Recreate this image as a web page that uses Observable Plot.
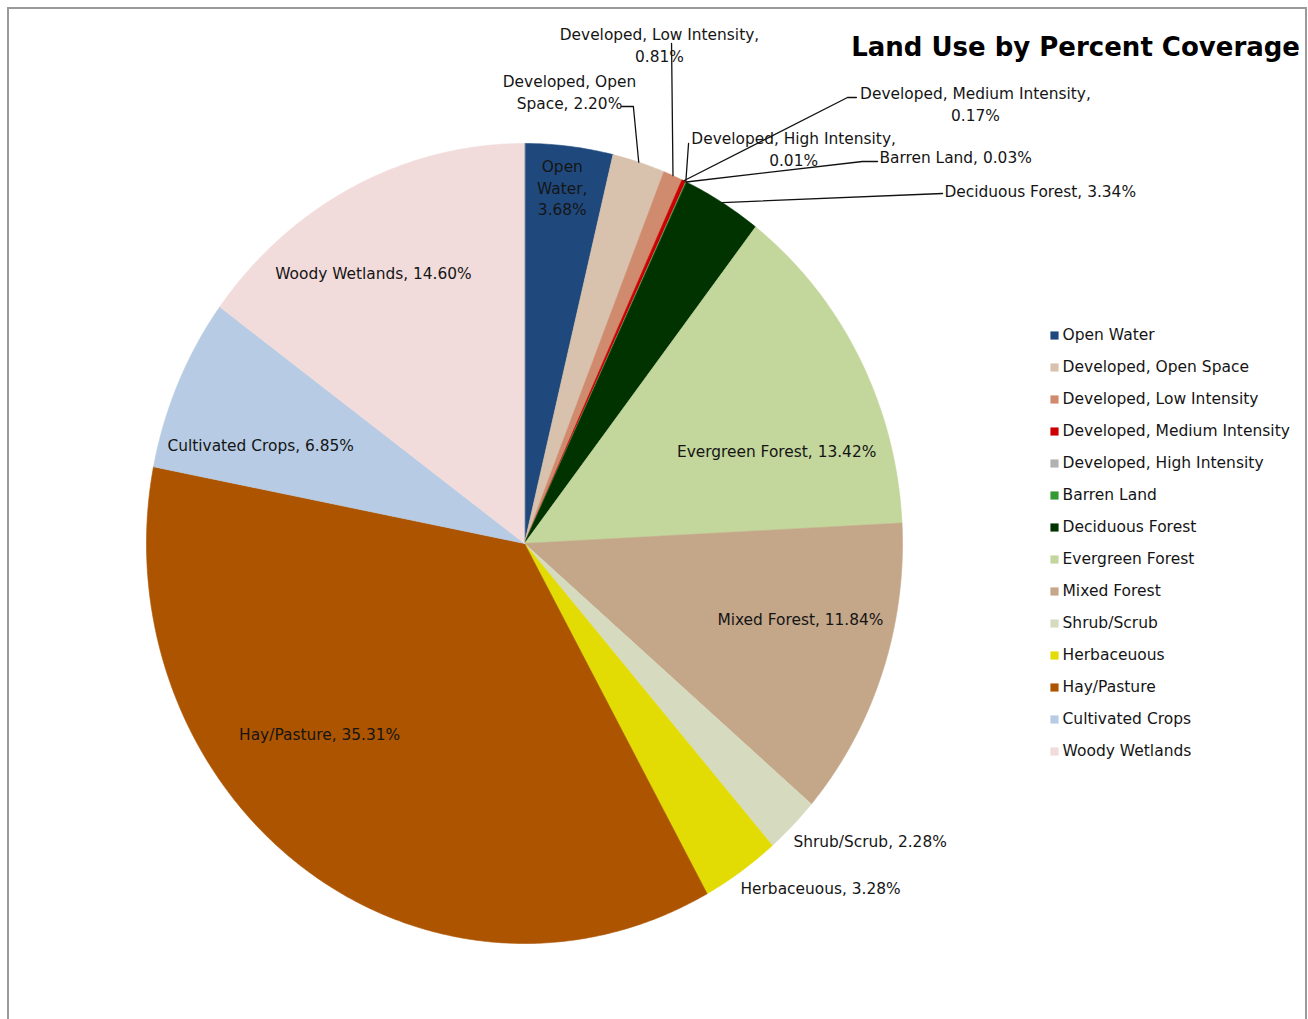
<!DOCTYPE html>
<html><head><meta charset="utf-8">
<script src="https://cdn.jsdelivr.net/npm/d3@7"></script>
<script src="https://cdn.jsdelivr.net/npm/@observablehq/plot@0.6"></script>
<style>
html,body{margin:0;padding:0;background:#fff;overflow:hidden;width:1308px;height:1019px}
#wrap{position:relative;width:1308px;height:1019px;font-family:"DejaVu Sans",sans-serif}
#border{position:absolute;left:7px;top:7px;width:1300px;height:1040px;border:2px solid #9a9a9a;border-bottom:none;box-sizing:border-box}
#title{position:absolute;right:8px;top:31px;font:bold 26px "DejaVu Sans",sans-serif;line-height:32px;color:#000;white-space:nowrap}
#chart{position:absolute;left:0;top:0}
#legend{position:absolute;left:1040px;top:315px}
</style></head><body>
<div id="wrap"><div id="border"></div><div id="chart"></div><div id="title">Land Use by Percent Coverage</div><div id="legend"></div></div>
<script>
// ---- data ----
const categories = ["Open Water","Developed, Open Space","Developed, Low Intensity","Developed, Medium Intensity","Developed, High Intensity","Barren Land","Deciduous Forest","Evergreen Forest","Mixed Forest","Shrub/Scrub","Herbaceuous","Hay/Pasture","Cultivated Crops","Woody Wetlands"];
const percents = [3.68, 2.20, 0.81, 0.17, 0.01, 0.03, 3.34, 13.42, 11.84, 2.28, 3.28, 35.31, 6.85, 14.60];
const colors = ["#1F497D","#D8C2AD","#D08A6E","#CC0000","#B2B2B2","#339933","#003300","#C3D69B","#C4A688","#D6DBBF","#E2DC04","#AD5400","#B7CCE4","#F2DCDB"];

// ---- label layout (in pie-radius units) ----
const labelLayout = {
 "Open Water": {at:[0.100, 0.892], breaks:["Open","Water,"]},
 "Developed, Open Space": {at:[0.119,1.131], breaks:["Open"], leader:[[0.288,1.0925],[0.257,1.0925]]},
 "Developed, Low Intensity": {at:[0.357,1.249], breaks:["Intensity,"], leader:[[0.389,1.25]]},
 "Developed, Medium Intensity": {at:[1.193,1.101], breaks:["Intensity,"], leader:[[0.8545,1.115],[0.878,1.115]]},
 "Developed, High Intensity": {at:[0.712,0.989], breaks:["Intensity,"], leader:[[0.434,1.0]]},
 "Barren Land": {at:[0.939,0.9675], anchor:"start", leader:[[0.894,0.955],[0.934,0.955]]},
 "Deciduous Forest": {at:[1.111,0.8825], anchor:"start", leader:[[1.106,0.875]]},
 "Evergreen Forest": {at:[0.667,0.2325]},
 "Mixed Forest": {at:[0.730,-0.1875]},
 "Shrub/Scrub": {at:[0.7116,-0.7425], anchor:"start"},
 "Herbaceuous": {at:[0.5714,-0.86], anchor:"start"},
 "Hay/Pasture": {at:[-0.542,-0.475]},
 "Cultivated Crops": {at:[-0.698,0.2475]},
 "Woody Wetlands": {at:[-0.3995,0.6775]}
};

const rows = categories.map((name,i)=>({name, value: percents[i]}));
const arcs = d3.pie().sort(null).value(d=>d.value)(rows);

// slice outlines
const slicePts = [];
arcs.forEach(a=>{
  const name = a.data.name;
  slicePts.push({name, x:0, y:0});
  const n = Math.max(2, Math.ceil((a.endAngle-a.startAngle)/(Math.PI/360)));
  for (let k=0;k<=n;k++){
    const t = a.startAngle + (a.endAngle-a.startAngle)*k/n;
    slicePts.push({name, x:Math.sin(t), y:Math.cos(t)});
  }
});

// labels and leaders
const labels = [];
const leaders = [];
arcs.forEach(a=>{
  const name = a.data.name;
  const L = labelLayout[name];
  let text = `${name}, ${a.data.value.toFixed(2)}%`;
  (L.breaks||[]).forEach(b=>{ text = text.replace(b+" ", b+"\n"); });
  labels.push({name, text, x:L.at[0], y:L.at[1], anchor:L.anchor||"middle"});
  if (L.leader){
    const m = (a.startAngle+a.endAngle)/2;
    leaders.push({name, x:Math.sin(m), y:Math.cos(m)});
    L.leader.forEach(p=>leaders.push({name, x:p[0], y:p[1]}));
  }
});

const colorScale = {domain: categories, range: colors};
const font = "DejaVu Sans, sans-serif";

const chart = Plot.plot({
  width:1308, height:1019, margin:0,
  x:{domain:[-1,1], range:[146,902], axis:null},
  y:{domain:[-1,1], range:[943,143], axis:null},
  color: colorScale,
  style:{fontFamily:font, background:"transparent", overflow:"visible"},
  marks:[
    Plot.line(slicePts, {x:"x", y:"y", z:"name", fill:"name", stroke:"name", strokeWidth:0.6, curve:"linear-closed"}),
    Plot.line(leaders, {x:"x", y:"y", z:"name", stroke:"#111", strokeWidth:1.3}),
    Plot.text(labels.filter(d=>d.anchor==="middle"), {x:"x", y:"y", text:"text", fontSize:15.4, fill:"#151515", lineHeight:1.4, textAnchor:"middle"}),
    Plot.text(labels.filter(d=>d.anchor==="start"), {x:"x", y:"y", text:"text", fontSize:15.4, fill:"#151515", lineHeight:1.4, textAnchor:"start"})
  ]
});
document.getElementById("chart").appendChild(chart);

const legend = Plot.plot({
  width:268, height:460, margin:0,
  x:{domain:[0,1], range:[14,22], axis:null},
  y:{type:"point", domain:categories, range:[16,440], padding:0, axis:null},
  color: colorScale,
  style:{fontFamily:font, background:"transparent", overflow:"visible"},
  marks:[
    Plot.dot(categories, {x:()=>0, y:d=>d, fill:d=>d, symbol:"square", r:4.6, stroke:null}),
    Plot.text(categories, {x:()=>1, y:d=>d, text:d=>d, textAnchor:"start", fontSize:15.5, fill:"#151515"})
  ]
});
document.getElementById("legend").appendChild(legend);
</script>
</body></html>
